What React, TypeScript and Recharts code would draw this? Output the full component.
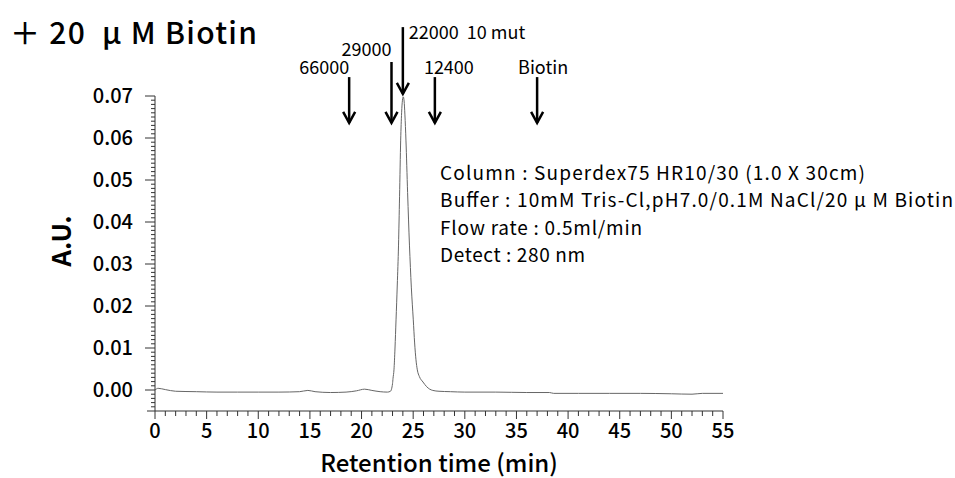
import React from 'react'
import { LineChart, Line, XAxis, YAxis, ReferenceLine } from 'recharts'

// chromatogram trace (min, A.U.)
const retentionTime = [
  0, 0.3, 1, 2, 4, 6, 8, 10, 12, 14, 14.8, 15.5, 17, 18.5, 19.5, 20.3, 21, 21.8, 22.5, 22.8,
  23.0, 23.05, 23.14, 23.24, 23.34, 23.46, 23.58, 23.68, 23.79, 23.88, 23.96, 24.04, 24.12,
  24.2, 24.3, 24.46, 24.64, 24.82, 25.01, 25.14, 25.27, 25.4, 25.6, 25.95, 26.3, 26.6, 26.9,
  27.5, 28.6, 30, 33, 36, 38.2, 38.6, 41, 44, 47, 50, 52, 53, 55,
]
const absorbance = [
  0.0, 0.0004, 0.0001, -0.0003, -0.0004, -0.0005, -0.0005, -0.0005, -0.0005, -0.0004, -0.0001,
  -0.0004, -0.0006, -0.0005, -0.0002, 0.0002, -0.0001, -0.0004, -0.0005, -0.0003,
  0.0015, 0.0028, 0.0048, 0.01, 0.0167, 0.025, 0.0345, 0.046, 0.0595, 0.066, 0.069, 0.0698, 0.0688,
  0.0655, 0.0595, 0.047, 0.0345, 0.0245, 0.0167, 0.0112, 0.0072, 0.0048, 0.0032, 0.0019, 0.0008,
  0.0002, -0.0001, -0.0003, -0.0004, -0.0005, -0.0005, -0.0006, -0.0006, -0.0008, -0.0008,
  -0.0008, -0.0008, -0.0009, -0.001, -0.0008, -0.0008,
]

// molecular weight markers
const markerLabels = ['66000', '29000', '22000\u00a0\u00a010 mut', '12400', 'Biotin']
const markerTimes = [18.8, 22.9, 24.0, 27.1, 37.0]
const markerTop = [0.0745, 0.0781, 0.0864, 0.0745, 0.0745]
const markerTip = [0.0636, 0.0636, 0.0705, 0.0636, 0.0636]

const xMajorTicks = [0, 5, 10, 15, 20, 25, 30, 35, 40, 45, 50, 55]
const yMajorTicks = [0, 0.01, 0.02, 0.03, 0.04, 0.05, 0.06, 0.07]

const infoLines = [
  'Column : Superdex75 HR10/30 (1.0 X 30cm)',
  'Buffer : 10mM Tris-Cl,pH7.0/0.1M NaCl/20 μ M Biotin',
  'Flow rate : 0.5ml/min',
  'Detect : 280 nm',
]
const infoWidths = [425, 513, 202, 145]

const data = retentionTime.map((t, i) => ({ t, au: absorbance[i] }))

const xTicks: number[] = []
for (let i = 0; i <= 55; i++) xTicks.push(i)
const yTicks: number[] = []
for (let i = -5; i <= 70; i++) yTicks.push(i / 1000)

const FONT = '"Noto Sans CJK JP", "Noto Sans", sans-serif'
const AXIS = '#333'

function XTick({ x, y, payload }: any) {
  const v = payload.value
  const major = xMajorTicks.includes(v)
  return (
    <g>
      <line x1={x} y1={y} x2={x} y2={y + (major ? 8 : 5)} stroke={AXIS} />
      {major && (
        <text x={x} y={y + 20} dy="0.35em" textAnchor="middle" fontSize={20} fontFamily={FONT} fontWeight={500} fill="#000">
          {v}
        </text>
      )}
    </g>
  )
}

function YTick({ x, y, payload }: any) {
  const v = Math.round(payload.value * 1000)
  const major = v >= 0 && v % 10 === 0
  const len = major ? 10 : v === -5 ? 8 : 4
  return (
    <g>
      <line x1={x - len} y1={y} x2={x} y2={y} stroke={AXIS} />
      {major && (
        <text x={x - 22} y={y} dy="0.35em" textAnchor="end" fontSize={20} fontFamily={FONT} fontWeight={500} fill="#000">
          {yMajorTicks[v / 10].toFixed(2)}
        </text>
      )}
    </g>
  )
}

function Arrow({ x1, y1, x2, y2, label, idx }: any) {
  // label placement next to each arrow
  const labelPos = [
    { dx: 0, dy: -3, anchor: 'end' },
    { dx: 0, dy: -6, anchor: 'end' },
    { dx: 6, dy: 12, anchor: 'start' },
    { dx: 14, dy: -3, anchor: 'middle' },
    { dx: 6, dy: -3, anchor: 'middle' },
  ][idx]
  return (
    <g>
      <line x1={x1} y1={y1} x2={x2} y2={y2} stroke="#000" strokeWidth={2.5} />
      <path d={`M${x2 - 6},${y2 - 11} L${x2},${y2} L${x2 + 6},${y2 - 11}`} fill="none" stroke="#000" strokeWidth={2.5} />
      <text x={x1 + labelPos.dx} y={y1 + labelPos.dy} textAnchor={labelPos.anchor} fontSize={18} fontFamily={FONT} fill="#000">
        {label}
      </text>
    </g>
  )
}

export default function App() {
  return (
    <div style={{ position: 'relative', width: 955, height: 478, background: '#fff' }}>
      <style>{'body{margin:0}'}</style>
      <LineChart width={955} height={478} data={data} margin={{ top: 96, right: 232, bottom: 0, left: 0 }}>
        <XAxis
          type="number"
          dataKey="t"
          domain={[0, 55]}
          ticks={xTicks}
          interval={0}
          tick={<XTick />}
          tickLine={false}
          tickSize={0}
          tickMargin={0}
          height={67}
          stroke={AXIS}
          label={{ value: 'Retention time (min)', position: 'insideBottom', offset: 6, fontSize: 24, fontFamily: FONT, fontWeight: 500, fill: '#000' }}
        />
        <YAxis
          type="number"
          domain={[-0.005, 0.07]}
          allowDataOverflow
          ticks={yTicks}
          interval={0}
          tick={<YTick />}
          tickLine={false}
          tickSize={0}
          tickMargin={0}
          width={155}
          stroke={AXIS}
        />
        {markerTimes.map((t, i) => (
          <ReferenceLine
            key={markerLabels[i]}
            segment={[{ x: t, y: markerTop[i] }, { x: t, y: markerTip[i] }]}
            ifOverflow="visible"
            shape={(p: any) => <Arrow {...p} label={markerLabels[i]} idx={i} />}
          />
        ))}
        <Line type="monotone" dataKey="au" stroke="#666" strokeWidth={1} dot={false} isAnimationActive={false} />
      </LineChart>
      <svg width={955} height={478} style={{ position: 'absolute', left: 0, top: 0, pointerEvents: 'none' }}>
        <text x={10} y={44} fontSize={30} fontFamily={FONT} fontWeight={500} fill="#000" textLength={247} lengthAdjust="spacing" xmlSpace="preserve">
          {'＋ 20  μ M Biotin'}
        </text>
        <text x={0} y={0} transform="translate(71,241) rotate(-90)" textAnchor="middle" fontSize={26} fontFamily={FONT} fontWeight={700} fill="#000">A.U.</text>
        {infoLines.map((s, i) => (
          <text key={s} x={440} y={180 + i * 27.3} fontSize={19} fontFamily={FONT} fill="#000" textLength={infoWidths[i]} lengthAdjust="spacing">
            {s}
          </text>
        ))}
      </svg>
    </div>
  )
}
